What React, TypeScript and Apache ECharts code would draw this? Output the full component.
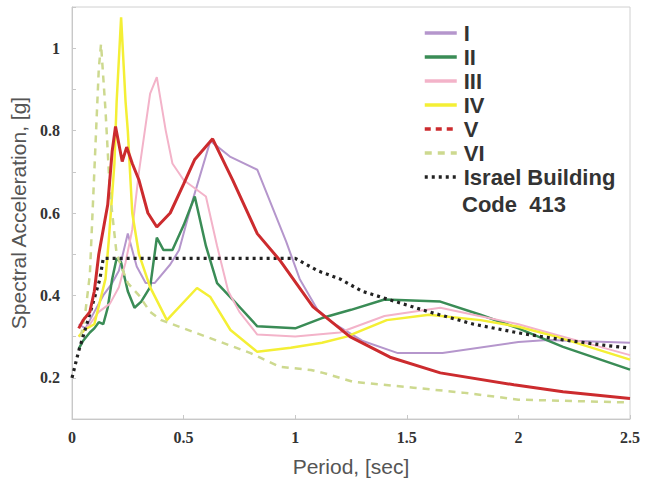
import React, { useEffect, useRef } from "react";
import * as echarts from "echarts";

// Period [sec], Spectral acceleration [g]
const seriesNames = ["I", "II", "III", "IV", "V", "VI", "Israel Building Code 413"];

const dataI: [number, number][] = [
  [0.03, 0.33], [0.06, 0.32], [0.1, 0.36], [0.14, 0.4], [0.18, 0.43], [0.21, 0.46], [0.25, 0.55],
  [0.29, 0.47], [0.33, 0.43], [0.37, 0.43], [0.44, 0.475], [0.48, 0.51], [0.54, 0.63], [0.62, 0.775],
  [0.71, 0.736], [0.83, 0.705], [0.96, 0.53], [1.02, 0.44], [1.1, 0.365], [1.17, 0.333], [1.3, 0.29],
  [1.46, 0.26], [1.66, 0.26], [2.0, 0.287], [2.13, 0.292], [2.5, 0.285],
];
const dataII: [number, number][] = [
  [0.03, 0.27], [0.05, 0.29], [0.08, 0.31], [0.1, 0.32], [0.12, 0.335], [0.14, 0.33], [0.16, 0.37],
  [0.18, 0.44], [0.2, 0.49], [0.22, 0.48], [0.25, 0.41], [0.28, 0.37], [0.31, 0.385], [0.35, 0.42],
  [0.38, 0.54], [0.41, 0.51], [0.45, 0.51], [0.5, 0.57], [0.55, 0.64], [0.6, 0.52], [0.65, 0.43],
  [0.72, 0.39], [0.83, 0.325], [1.0, 0.32], [1.12, 0.345], [1.25, 0.365], [1.4, 0.39], [1.65, 0.385],
  [1.83, 0.353], [2.0, 0.32], [2.2, 0.275], [2.5, 0.22],
];
const dataIII: [number, number][] = [
  [0.03, 0.3], [0.08, 0.33], [0.12, 0.36], [0.17, 0.38], [0.21, 0.42], [0.24, 0.48], [0.27, 0.56],
  [0.3, 0.7], [0.35, 0.89], [0.38, 0.93], [0.42, 0.8], [0.45, 0.72], [0.5, 0.68], [0.55, 0.66],
  [0.6, 0.64], [0.65, 0.52], [0.7, 0.41], [0.75, 0.36], [0.83, 0.305], [1.0, 0.3], [1.2, 0.31],
  [1.4, 0.35], [1.65, 0.37], [2.0, 0.33], [2.2, 0.3], [2.5, 0.255],
];
const dataIV: [number, number][] = [
  [0.03, 0.3], [0.054, 0.316], [0.1, 0.33], [0.15, 0.44], [0.165, 0.535], [0.19, 0.72], [0.2, 0.87],
  [0.22, 1.075], [0.24, 0.87], [0.25, 0.8], [0.27, 0.6], [0.3, 0.5], [0.35, 0.42], [0.425, 0.34],
  [0.56, 0.418], [0.62, 0.396], [0.71, 0.316], [0.83, 0.263], [0.98, 0.273], [1.12, 0.285],
  [1.23, 0.3], [1.41, 0.34], [1.6, 0.353], [1.83, 0.34], [2.0, 0.324], [2.17, 0.3], [2.5, 0.244],
];
const dataV: [number, number][] = [
  [0.03, 0.32], [0.05, 0.34], [0.08, 0.36], [0.1, 0.41], [0.12, 0.5], [0.14, 0.56], [0.16, 0.62],
  [0.18, 0.75], [0.195, 0.81], [0.225, 0.725], [0.245, 0.76], [0.27, 0.72], [0.3, 0.68], [0.34, 0.6],
  [0.38, 0.566], [0.44, 0.6], [0.5, 0.67], [0.55, 0.73], [0.63, 0.78], [0.72, 0.68], [0.83, 0.55],
  [0.93, 0.486], [1.08, 0.372], [1.245, 0.3], [1.425, 0.25], [1.65, 0.212], [1.98, 0.183],
  [2.2, 0.166], [2.5, 0.15],
];
const dataVI: [number, number][] = [
  [0.04, 0.3], [0.06, 0.36], [0.08, 0.45], [0.1, 0.7], [0.12, 0.95], [0.13, 1.01], [0.15, 0.85],
  [0.17, 0.65], [0.2, 0.5], [0.25, 0.43], [0.3, 0.4], [0.35, 0.36], [0.4, 0.34], [0.45, 0.33],
  [0.55, 0.31], [0.7, 0.28], [0.8, 0.26], [0.93, 0.227], [1.07, 0.219], [1.125, 0.212], [1.26, 0.19],
  [1.53, 0.176], [1.75, 0.164], [2.0, 0.147], [2.5, 0.14],
];
const dataCode: [number, number][] = [
  [0, 0.2], [0.03, 0.265], [0.08, 0.355], [0.125, 0.44], [0.14, 0.49], [1.0, 0.49], [1.1, 0.46],
  [1.2, 0.44], [1.3, 0.41], [1.425, 0.389], [1.6, 0.36], [1.8, 0.33], [2.0, 0.309], [2.2, 0.292],
  [2.4, 0.278], [2.5, 0.272],
];

const xTicks = [0, 0.5, 1, 1.5, 2, 2.5];
const yTickLabels = ["0.2", "0.4", "0.6", "0.8", "1"];

export default function App() {
  const ref = useRef<HTMLDivElement>(null);
  useEffect(() => {
    if (!ref.current) return;
    const chart = echarts.init(ref.current, null, { renderer: "svg" });
    const colors = ["#b596cc", "#3a8c56", "#f3b3c9", "#f4ef35", "#cc2b2e", "#cdd98f", "#222222"];
    const datas = [dataI, dataII, dataIII, dataIV, dataV, dataVI, dataCode];
    const widths = [2, 2.5, 2, 2.5, 3, 2.5, 3.2];
    const types: any[] = ["solid", "solid", "solid", "solid", "solid", [7, 6], [3, 4]];
    chart.setOption({
      animation: false,
      backgroundColor: "#fff",
      grid: { left: 72, right: 22, top: 7, bottom: 63, show: true, borderColor: "#d0d0d0", borderWidth: 1 },
      xAxis: {
        type: "value",
        min: xTicks[0],
        max: xTicks[xTicks.length - 1],
        interval: 0.5,
        name: "Period, [sec]",
        nameLocation: "middle",
        nameGap: 37,
        nameTextStyle: { fontFamily: "Liberation Sans", fontSize: 21, color: "#555" },
        axisLine: { lineStyle: { color: "#c8c8c8" } },
        axisTick: { inside: true, length: 4, lineStyle: { color: "#c8c8c8" } },
        splitLine: { show: false },
        axisLabel: {
          fontFamily: "Liberation Serif",
          fontWeight: "bold",
          fontSize: 16,
          color: "#333",
          margin: 10,
          formatter: (v: number) => String(v),
        },
      },
      yAxis: {
        type: "value",
        min: 0.1,
        max: 1.1,
        interval: 0.1,
        name: "Spectral Acceleration, [g]",
        nameLocation: "middle",
        nameGap: 40,
        nameTextStyle: { fontFamily: "Liberation Sans", fontSize: 21, color: "#555" },
        axisLine: { show: true, lineStyle: { color: "#c8c8c8" } },
        axisTick: { inside: true, length: 4, lineStyle: { color: "#c8c8c8" } },
        splitLine: { show: false },
        axisLabel: {
          fontFamily: "Liberation Serif",
          fontWeight: "bold",
          fontSize: 16,
          color: "#333",
          margin: 12,
          formatter: (v: number) => {
            const s = String(Math.round(v * 10) / 10);
            return yTickLabels.includes(s) ? s : "";
          },
        },
      },
      legend: {
        orient: "vertical",
        left: 418,
        top: 17,
        itemWidth: 32,
        itemHeight: 14,
        itemGap: 2,
        itemStyle: { opacity: 0 },
        lineStyle: { width: 3.5 },
        textStyle: {
          fontFamily: "Liberation Sans",
          fontWeight: "bold",
          fontSize: 22,
          lineHeight: 22,
          color: "#333",
          padding: [0, 0, 0, 2],
        },
        formatter: (n: string) => (n === seriesNames[6] ? "Israel Building" : n),
        data: seriesNames.map((n, i) =>
          i === 4 ? { name: n, lineStyle: { type: [6, 5] } } : { name: n }
        ),
      },
      graphic: [
        {
          type: "text",
          left: 462,
          top: 193,
          style: {
            text: "Code  413",
            fontFamily: "Liberation Sans",
            fontWeight: "bold",
            fontSize: 22,
            lineHeight: 22,
            fill: "#333",
          },
        },
      ],
      series: seriesNames.map((n, i) => ({
        name: n,
        type: "line",
        data: datas[i],
        symbol: "none",
        z: i === 4 ? 5 : 3,
        lineStyle: { color: colors[i], width: widths[i], type: types[i] },
        itemStyle: { color: colors[i] },
      })),
    });
    return () => chart.dispose();
  }, []);
  return (
    <div
      ref={ref}
      style={{ position: "fixed", left: 0, top: 0, width: 652, height: 482 }}
    />
  );
}
